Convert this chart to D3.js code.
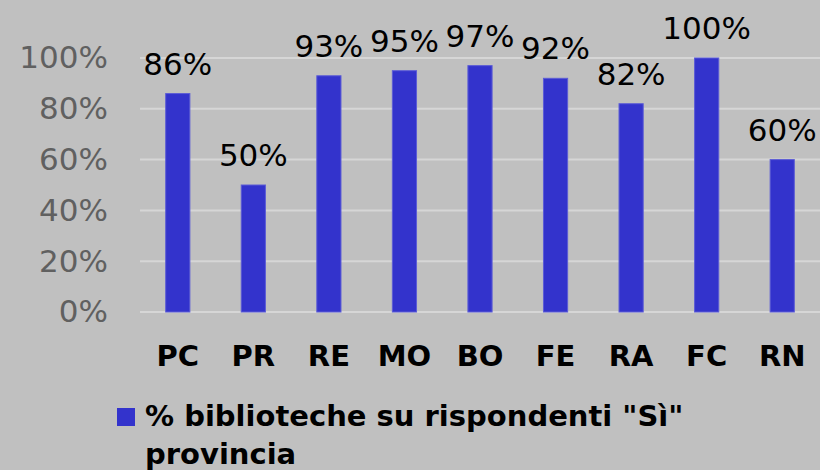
<!DOCTYPE html>
<html>
<meta charset="utf-8">
  <head>
    <script src="https://d3js.org/d3.v7.min.js"></script>
    <style>
      body { margin: 0; background: #c0c0c0; }
    </style>
  </head>
  <body>
    <div id="my_dataviz"></div>
    <script>

    // data
    var provinces = ["PC", "PR", "RE", "MO", "BO", "FE", "RA", "FC", "RN"];
    var values = [86, 50, 93, 95, 97, 92, 82, 100, 60];
    var yTicks = [0, 20, 40, 60, 80, 100];
    var legendLines = ["% biblioteche su rispondenti \"Sì\"", "provincia"];

    var W = 820, H = 470;
    var plotLeft = 140, plotRight = 820, plotTop = 58, plotBottom = 312;

    var svg = d3.select("#my_dataviz")
      .append("svg")
        .attr("width", W)
        .attr("height", H)
        .style("display", "block");

    svg.append("rect")
        .attr("width", W)
        .attr("height", H)
        .attr("fill", "#c0c0c0");

    var x = d3.scaleBand()
        .domain(provinces)
        .range([plotLeft, plotRight])
        .paddingInner(0.68)
        .paddingOuter(0.34);

    var y = d3.scaleLinear()
        .domain([0, 100])
        .range([plotBottom, plotTop]);

    // gridlines
    svg.append("g")
      .selectAll("line")
      .data(yTicks)
      .enter()
      .append("line")
        .attr("x1", plotLeft)
        .attr("x2", plotRight)
        .attr("y1", function(d) { return y(d); })
        .attr("y2", function(d) { return y(d); })
        .attr("stroke", "#d6d6d6")
        .attr("stroke-width", 2);

    // y axis labels
    var yAxis = svg.append("g")
        .attr("transform", "translate(" + (plotLeft - 32) + ",0)")
        .call(d3.axisLeft(y).tickValues(yTicks).tickSize(0).tickPadding(0)
              .tickFormat(function(d) { return d + "%"; }));
    yAxis.select(".domain").remove();
    yAxis.selectAll("text")
        .attr("fill", "#606060")
        .style("font-family", "'DejaVu Sans', Verdana, sans-serif")
        .style("font-size", "31px");

    // bars
    svg.selectAll("rect.bar")
        .data(values)
        .enter()
        .append("rect")
          .attr("class", "bar")
          .attr("x", function(d, i) { return x(provinces[i]); })
          .attr("y", function(d) { return y(d); })
          .attr("width", x.bandwidth())
          .attr("height", function(d) { return y(0) - y(d); })
          .attr("fill", "#3333cc")
          .attr("stroke", "#5c5cd6")
          .attr("stroke-width", 1);

    // value labels
    svg.selectAll("text.val")
        .data(values)
        .enter()
        .append("text")
          .attr("class", "val")
          .attr("x", function(d, i) { return x(provinces[i]) + x.bandwidth() / 2; })
          .attr("y", function(d) { return y(d) - 19; })
          .attr("text-anchor", "middle")
          .style("font-family", "'DejaVu Sans', Verdana, sans-serif")
          .style("font-size", "31px")
          .attr("fill", "#000")
          .text(function(d) { return d + "%"; });

    // category labels
    var xAxis = svg.append("g")
        .attr("transform", "translate(0," + plotBottom + ")")
        .call(d3.axisBottom(x).tickSize(0).tickPadding(0));
    xAxis.select(".domain").remove();
    xAxis.selectAll("text")
        .attr("dy", null)
        .attr("y", 54)
        .attr("fill", "#000")
        .style("font-family", "'DejaVu Sans', Verdana, sans-serif")
        .style("font-weight", "bold")
        .style("font-size", "29px");

    // legend
    var legend = svg.append("g");
    legend.append("rect")
        .attr("x", 117)
        .attr("y", 408)
        .attr("width", 18)
        .attr("height", 18)
        .attr("fill", "#3333cc");
    legend.selectAll("text")
        .data(legendLines)
        .enter()
        .append("text")
          .attr("x", 145)
          .attr("y", function(d, i) { return 426 + i * 38; })
          .style("font-family", "'DejaVu Sans', Verdana, sans-serif")
          .style("font-weight", "bold")
          .style("font-size", "29px")
          .attr("fill", "#000")
          .text(function(d) { return d; });

    </script>
  </body>
</html>
